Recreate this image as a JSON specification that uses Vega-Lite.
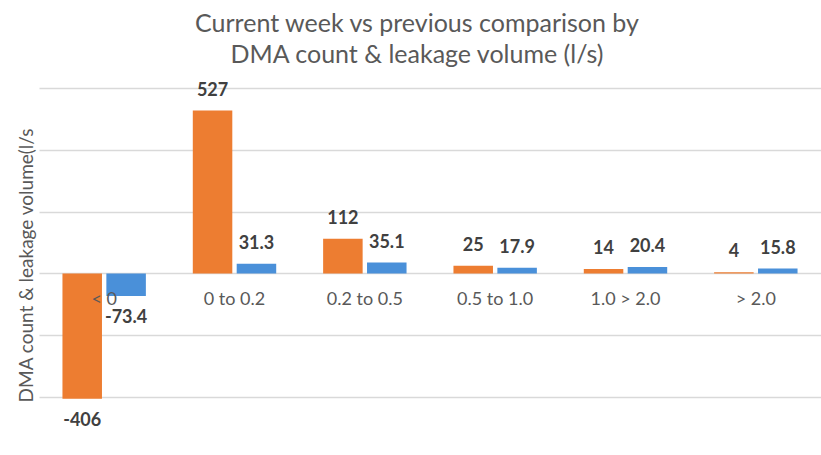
{
  "$schema": "https://vega.github.io/schema/vega-lite/v6.json",
  "autosize": "none",
  "width": 782,
  "height": 309,
  "padding": {"left": 39, "top": 88, "right": 0, "bottom": 58},
  "background": "white",
  "config": {"view": {"stroke": null}, "font": "Lato"},
  "title": {
    "text": ["Current week vs previous comparison by", "DMA count & leakage volume (l/s)"],
    "font": "Lato",
    "fontSize": 25,
    "fontWeight": "normal",
    "color": "#595959",
    "anchor": "middle",
    "lineHeight": 31,
    "offset": 14,
    "dx": -13
  },
  "datasets": {
    "bars": [
      {"category": "< 0", "series": "DMA count", "value": -406, "label": "-406"},
      {"category": "< 0", "series": "Leakage volume", "value": -73.4, "label": "-73.4"},
      {"category": "0 to 0.2", "series": "DMA count", "value": 527, "label": "527"},
      {"category": "0 to 0.2", "series": "Leakage volume", "value": 31.3, "label": "31.3"},
      {"category": "0.2 to 0.5", "series": "DMA count", "value": 112, "label": "112"},
      {"category": "0.2 to 0.5", "series": "Leakage volume", "value": 35.1, "label": "35.1"},
      {"category": "0.5 to 1.0", "series": "DMA count", "value": 25, "label": "25"},
      {"category": "0.5 to 1.0", "series": "Leakage volume", "value": 17.9, "label": "17.9"},
      {"category": "1.0 > 2.0", "series": "DMA count", "value": 14, "label": "14"},
      {"category": "1.0 > 2.0", "series": "Leakage volume", "value": 20.4, "label": "20.4"},
      {"category": "> 2.0", "series": "DMA count", "value": 4, "label": "4"},
      {"category": "> 2.0", "series": "Leakage volume", "value": 15.8, "label": "15.8"}
    ],
    "cats": [
      {"category": "< 0"},
      {"category": "0 to 0.2"},
      {"category": "0.2 to 0.5"},
      {"category": "0.5 to 1.0"},
      {"category": "1.0 > 2.0"},
      {"category": "> 2.0"}
    ]
  },
  "encoding": {
    "x": {
      "field": "category",
      "type": "nominal",
      "sort": null,
      "scale": {"domain": ["< 0", "0 to 0.2", "0.2 to 0.5", "0.5 to 1.0", "1.0 > 2.0", "> 2.0"], "paddingInner": 0.36, "paddingOuter": 0.18},
      "axis": null
    }
  },
  "layer": [
    {
      "data": {"name": "bars"},
      "mark": {"type": "bar"},
      "encoding": {
        "xOffset": {"field": "series", "type": "nominal", "scale": {"paddingInner": 0.1}},
        "y": {
          "field": "value",
          "type": "quantitative",
          "scale": {"domain": [-400, 600], "nice": false},
          "axis": {
            "values": [-400, -200, 0, 200, 400, 600],
            "labels": false,
            "ticks": false,
            "domain": false,
            "grid": true,
            "gridColor": "#D9D9D9",
            "gridWidth": 1.5,
            "title": "DMA count & leakage volume(l/s",
            "titleFont": "Lato",
            "titleFontSize": 19,
            "titleFontWeight": "normal",
            "titleColor": "#595959",
            "titlePadding": 3,
            "titleY": 177
          }
        },
        "color": {
          "field": "series",
          "type": "nominal",
          "scale": {"domain": ["DMA count", "Leakage volume"], "range": ["#ED7D31", "#4A90D9"]},
          "legend": null
        }
      }
    },
    {
      "data": {"name": "bars"},
      "transform": [{"filter": "datum.value >= 0"}],
      "mark": {"type": "text", "baseline": "alphabetic", "dy": -15, "fontSize": 18, "fontWeight": "bold", "color": "#404040", "font": "Lato"},
      "encoding": {
        "xOffset": {"field": "series", "type": "nominal", "scale": {"paddingInner": 0.1}},
        "y": {"field": "value", "type": "quantitative"},
        "text": {"field": "label"}
      }
    },
    {
      "data": {"name": "bars"},
      "transform": [{"filter": "datum.value < 0"}],
      "mark": {"type": "text", "baseline": "top", "dy": 13, "fontSize": 18, "fontWeight": "bold", "color": "#404040", "font": "Lato"},
      "encoding": {
        "xOffset": {"field": "series", "type": "nominal", "scale": {"paddingInner": 0.1}},
        "y": {"field": "value", "type": "quantitative"},
        "text": {"field": "label"}
      }
    },
    {
      "data": {"name": "cats"},
      "mark": {"type": "text", "baseline": "middle", "dy": 27, "fontSize": 18, "color": "#595959", "font": "Lato"},
      "encoding": {
        "y": {"datum": 0, "type": "quantitative"},
        "text": {"field": "category"}
      }
    }
  ]
}
